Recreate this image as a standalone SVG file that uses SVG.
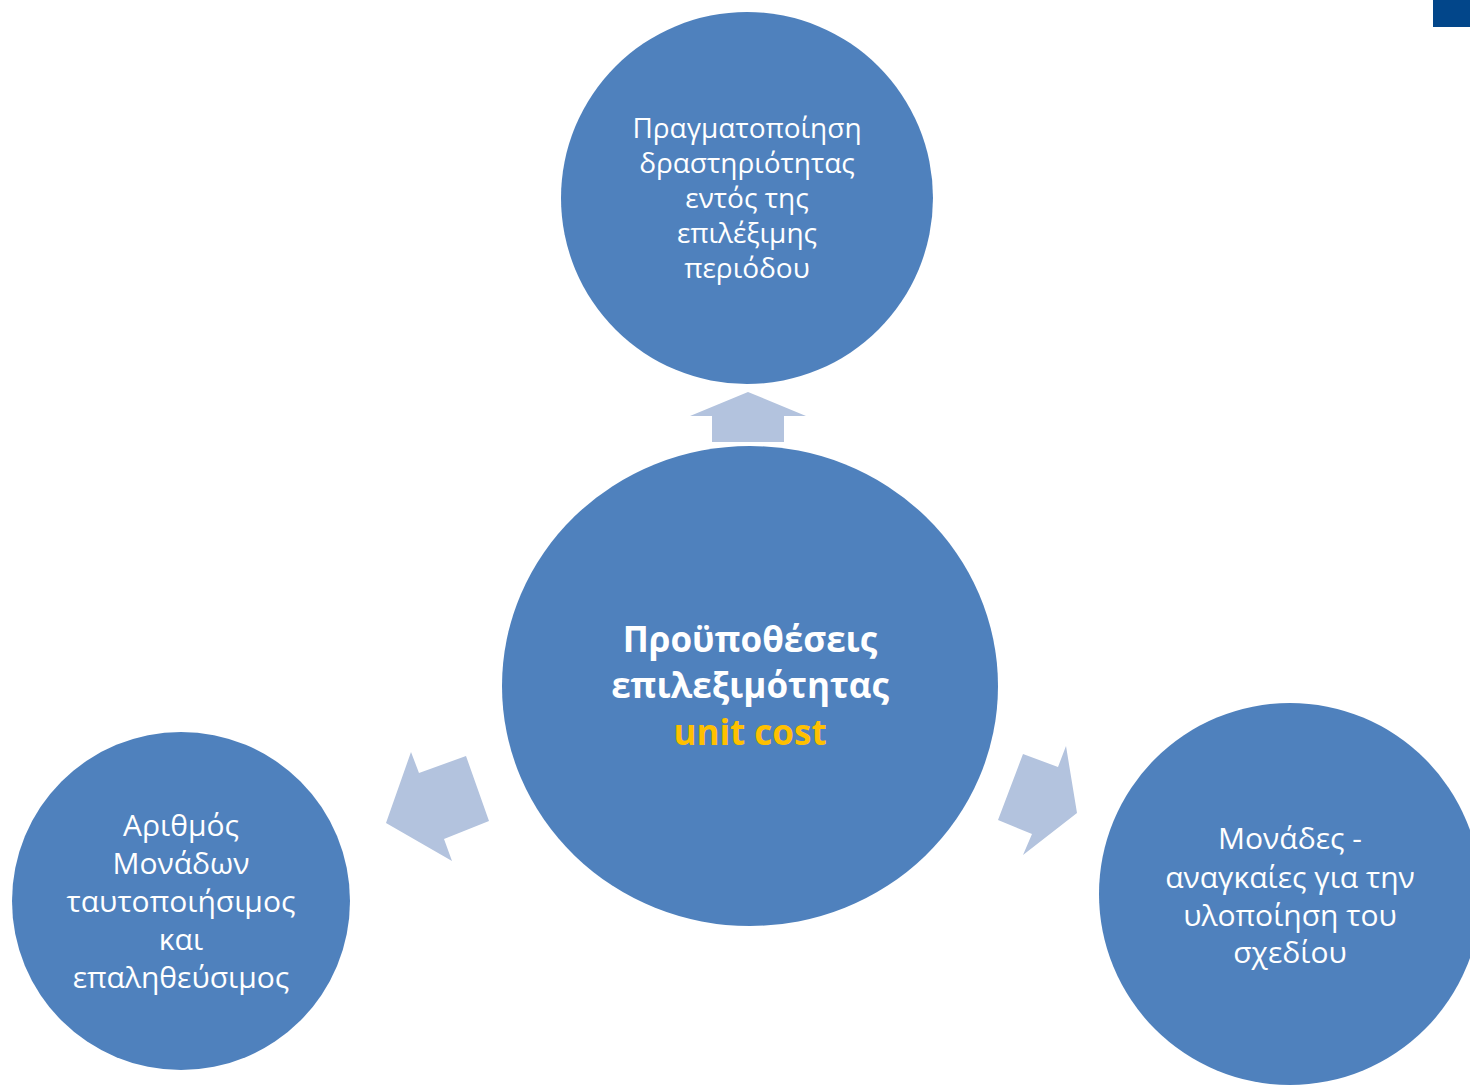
<svg xmlns="http://www.w3.org/2000/svg" width="1470" height="1086" viewBox="0 0 1470 1086">
<style>
.node{fill:#4F81BD}
.arrow{fill:#B3C3DE}
.t{font-family:"Open Sans","Noto Sans",sans-serif;fill:#FFFFFF;text-anchor:middle}
.s1{font-size:28px}
.s2{font-size:30px}
.c{font-size:35px;font-weight:bold}
.y{fill:#FFC000}
</style>
<rect width="1470" height="1086" fill="#FFFFFF"/>
<rect x="1433" y="0" width="37" height="27" fill="#02468A"/>
<g id="connectors">
<polygon class="arrow" points="748,392 806,416 784,416 784,442 712,442 712,416 690,416"/>
<polygon class="arrow" points="386,823 411,752 419,773 466,756 489,821 444,839 452,861"/>
<polygon class="arrow" points="1077,813 1023,855 1032,834 998,820 1023,754 1058,767 1066,746"/>
</g>
<g id="node-top">
<circle class="node" cx="747" cy="198" r="186"/>
<text class="t s1"><tspan x="747" y="138">Πραγματοποίηση</tspan><tspan x="747" y="173">δραστηριότητας</tspan><tspan x="747" y="208">εντός της</tspan><tspan x="747" y="243">επιλέξιμης</tspan><tspan x="747" y="278">περιόδου</tspan></text>
</g>
<g id="node-center">
<ellipse class="node" cx="750" cy="686" rx="248" ry="240"/>
<text class="t c"><tspan x="750" y="652">Προϋποθέσεις</tspan><tspan x="750" y="698">επιλεξιμότητας</tspan><tspan class="y" x="750" y="745">unit cost</tspan></text>
</g>
<g id="node-left">
<circle class="node" cx="181" cy="901" r="169"/>
<text class="t s2"><tspan x="181" y="836">Αριθμός</tspan><tspan x="181" y="874">Μονάδων</tspan><tspan x="181" y="912">ταυτοποιήσιμος</tspan><tspan x="181" y="950">και</tspan><tspan x="181" y="988">επαληθεύσιμος</tspan></text>
</g>
<g id="node-right">
<circle class="node" cx="1290" cy="894" r="191"/>
<text class="t s2"><tspan x="1290" y="849">Μονάδες -</tspan><tspan x="1290" y="888">αναγκαίες για την</tspan><tspan x="1290" y="926">υλοποίηση του</tspan><tspan x="1290" y="963">σχεδίου</tspan></text>
</g>
</svg>
